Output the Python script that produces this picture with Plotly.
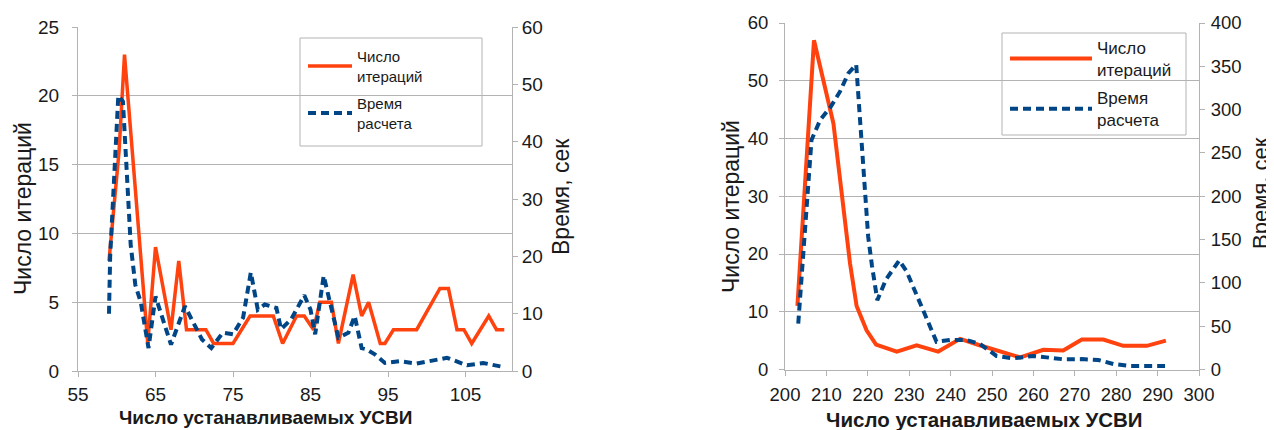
import plotly.graph_objects as go

# ---------------- data ----------------
# Left chart: number of iterations (left axis) and calculation time, s (right axis)
left_iter_x = [59, 60.3, 61, 64, 65, 67, 68, 69, 71.5, 72.5, 75, 77.2, 80.2, 81.4, 83.2, 84.2,
               85.4, 86.2, 87.7, 88.6, 90.5, 91.6, 92.5, 94, 94.6, 95.7, 98.7, 101.7, 102.8,
               103.9, 104.8, 105.8, 108, 109, 110]
left_iter_y = [8, 16, 23, 2, 9, 3, 8, 3, 3, 2, 2, 4, 4, 2, 4, 4,
               3, 5, 5, 2, 7, 4, 5, 2, 2, 3, 3, 6, 6,
               3, 3, 2, 4, 3, 3]

left_time_x = [59, 59.15, 60.2, 60.8, 61.8, 62.4, 63.1, 64.1, 65, 65.8, 67, 68.8, 69.9, 71,
               72.2, 73.7, 75, 76.3, 77.3, 78.2, 79.1, 80.6, 81.2, 82.5, 84.2, 85, 85.6, 86.7,
               88.6, 89.9, 90.7, 91.6, 92.2, 93.3, 94.6, 96.5, 98.7, 100.8, 102.6, 105.2,
               107.3, 109.5]
left_time_y = [10, 20, 48, 47, 22, 15, 12, 4, 13, 9.6, 4.6, 11.3, 8.5, 5.5,
               4, 6.7, 6.4, 9.3, 17.2, 10.7, 11.6, 11, 7.3, 9, 13.2, 10.7, 6.4, 16.6,
               5.8, 6.7, 9.6, 4, 3.8, 2.9, 1.4, 1.7, 1.3, 1.9, 2.3, 1.0,
               1.4, 0.8]

# Right chart
right_iter_x = [203, 207, 211.7, 213.7, 215.7, 217.3, 219.7, 222, 227, 231.8, 237, 242.3,
                247, 256.8, 262.4, 267.2, 271.7, 276.9, 281.7, 287.4, 292]
right_iter_y = [11, 57, 42.6, 30, 18.4, 11, 6.8, 4.3, 3.1, 4.2, 3.1, 5.3,
                4.2, 2.1, 3.4, 3.3, 5.2, 5.2, 4.1, 4.1, 5]

right_time_x = [203.2, 206.4, 208.5, 211, 213.3, 215.3, 217.2, 218.5, 219.3, 220.1, 221,
                222.3, 224.4, 227.6, 229.4, 233, 236.6, 239.9, 243.9, 247.1, 251.1, 255.1,
                260, 263.2, 267.2, 271.7, 275.7, 279.3, 283.3, 288.2, 291.8]
right_time_y = [53, 265, 288, 303, 321, 342, 352, 265, 200, 153, 120,
                80, 104, 126, 113, 72, 32, 34, 34, 29.5, 15.6, 12.9,
                15.6, 14, 11.8, 12, 11, 6.4, 4, 4, 4]

series_names = ["Число<br>итераций", "Время<br>расчета"]
left_x_ticks = [55, 65, 75, 85, 95, 105]
right_x_ticks = [200, 210, 220, 230, 240, 250, 260, 270, 280, 290, 300]

RED = "#ff420e"
BLUE = "#004586"
GRID = "#b3b3b3"
FONT = "Liberation Sans, Arial, sans-serif"
TXT = "#1a1a1a"

# the page body has an 8px margin; lay out in window pixels and convert
OFF = 8
WIN_W, WIN_H = 1274, 430
W, H = WIN_W - OFF, WIN_H - OFF


def px(x):
    return (x - OFF) / W


def py(y):
    return 1 - (y - OFF) / H


fig = go.Figure()
fig.add_trace(go.Scatter(x=left_iter_x, y=left_iter_y, name=series_names[0], mode="lines",
                         line=dict(color=RED, width=3.5), xaxis="x", yaxis="y",
                         legend="legend", legendgroup="a1"))
fig.add_trace(go.Scatter(x=left_time_x, y=left_time_y, name=series_names[1], mode="lines",
                         line=dict(color=BLUE, width=4, dash="8px,5px"), xaxis="x", yaxis="y2",
                         legend="legend", legendgroup="a2"))
fig.add_trace(go.Scatter(x=right_iter_x, y=right_iter_y, name=series_names[0], mode="lines",
                         line=dict(color=RED, width=4), xaxis="x2", yaxis="y3",
                         legend="legend2", legendgroup="b1"))
fig.add_trace(go.Scatter(x=right_time_x, y=right_time_y, name=series_names[1], mode="lines",
                         line=dict(color=BLUE, width=4, dash="8px,5px"), xaxis="x2", yaxis="y4",
                         legend="legend2", legendgroup="b2"))


def ax(size, **kw):
    d = dict(showline=True, linecolor=GRID, linewidth=1, ticks="outside", ticklen=5,
             tickcolor=GRID, zeroline=False, automargin=False,
             tickfont=dict(family=FONT, size=size, color=TXT))
    d.update(kw)
    return d


L_dom_x = [px(78), px(512)]
L_dom_y = [py(371), py(27)]
R_dom_x = [px(785), px(1199)]
R_dom_y = [py(369.5), py(23)]

fig.update_layout(
    width=W, height=H,
    margin=dict(l=0, r=0, t=0, b=0, autoexpand=False),
    paper_bgcolor="white", plot_bgcolor="white",
    font=dict(family=FONT, color=TXT),
    xaxis=ax(19, domain=L_dom_x, range=[55, 111], tickvals=left_x_ticks, anchor="y",
             showgrid=False, ticklabelstandoff=1),
    yaxis=ax(19, domain=L_dom_y, range=[0, 25], dtick=5, anchor="x", showgrid=True,
             gridcolor=GRID, gridwidth=1, ticklabelstandoff=9),
    yaxis2=ax(19, overlaying="y", side="right", anchor="x", range=[0, 60], dtick=10,
              showgrid=False, ticklabelstandoff=0),
    xaxis2=ax(18.5, domain=R_dom_x, range=[200, 300], tickvals=right_x_ticks, anchor="y3",
              showgrid=False, ticklabelstandoff=3),
    yaxis3=ax(18.5, domain=R_dom_y, range=[0, 60], dtick=10, anchor="x2", showgrid=True,
              gridcolor=GRID, gridwidth=1, ticklabelstandoff=7),
    yaxis4=ax(18.5, overlaying="y3", side="right", anchor="x2", range=[0, 400], dtick=50,
              showgrid=False, ticklabelstandoff=2),
    legend=dict(x=px(303), y=py(40), xanchor="left", yanchor="top", bgcolor="rgba(0,0,0,0)",
                borderwidth=0, font=dict(family=FONT, size=15, color=TXT), itemwidth=44,
                tracegroupgap=5),
    legend2=dict(x=px(1005), y=py(30), xanchor="left", yanchor="top", bgcolor="rgba(0,0,0,0)",
                 borderwidth=0, font=dict(family=FONT, size=17, color=TXT), itemwidth=82,
                 tracegroupgap=3),
    showlegend=True,
    shapes=[
        dict(type="rect", xref="paper", yref="paper", x0=px(300), x1=px(482), y0=py(146),
             y1=py(38), line=dict(color=GRID, width=1), fillcolor="white", layer="below"),
        dict(type="rect", xref="paper", yref="paper", x0=px(1002), x1=px(1186), y0=py(135),
             y1=py(33), line=dict(color=GRID, width=1), fillcolor="white", layer="below"),
    ],
)

ann = [
    dict(text="Число итераций", x=px(23), y=py(209), textangle=-90, size=23, bold=False),
    dict(text="Время, сек", x=px(561), y=py(197), textangle=-90, size=23, bold=False),
    dict(text="Число устанавливаемых УСВИ", x=px(265), y=py(417), textangle=0, size=19,
         bold=True),
    dict(text="Число итераций", x=px(731), y=py(207), textangle=-90, size=23, bold=False),
    dict(text="Время, сек", x=px(1261), y=py(193), textangle=-90, size=22, bold=False),
    dict(text="Число устанавливаемых УСВИ", x=px(984), y=py(419), textangle=0, size=20.5,
         bold=True),
]
for a in ann:
    t = f"<b>{a['text']}</b>" if a["bold"] else a["text"]
    fig.add_annotation(xref="paper", yref="paper", showarrow=False, xanchor="center",
                       yanchor="middle", text=t, x=a["x"], y=a["y"], textangle=a["textangle"],
                       font=dict(family=FONT, size=a["size"], color=TXT))

fig.write_html("out.html")
